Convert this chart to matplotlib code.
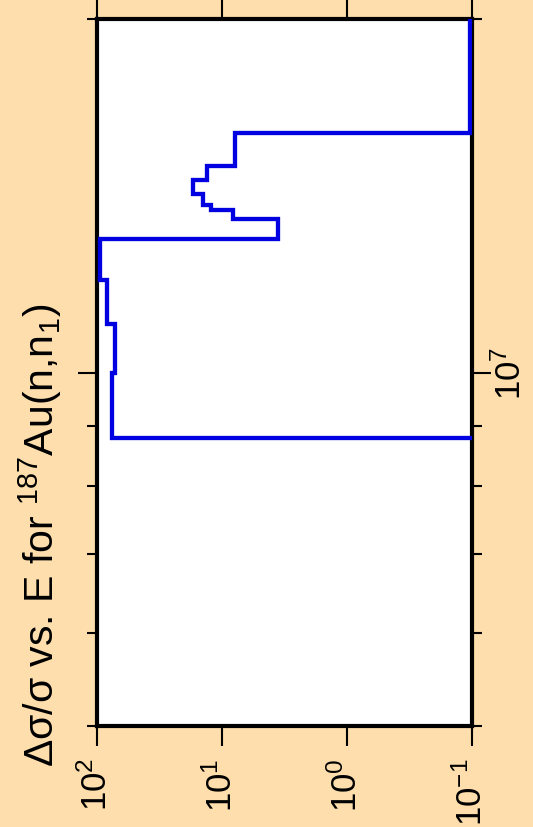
import matplotlib
matplotlib.use('Agg')
import matplotlib.pyplot as plt
from matplotlib.ticker import FixedLocator, NullLocator, FixedFormatter

plt.rcParams['font.family'] = ['Liberation Sans', 'DejaVu Sans']
plt.rcParams['mathtext.default'] = 'regular'

# energy bin edges (eV) and relative uncertainty in each bin
edges = [5.0e6, 8.8e6, 1.0e7, 1.1e7, 1.2e7, 1.3e7, 1.35e7, 1.375e7, 1.39e7,
         1.42e7, 1.46e7, 1.5e7, 1.6e7, 2.5e7]
values = [1e-3, 75.9, 71.8, 83.2, 95.0, 3.56, 8.17, 12.2, 14.2,
          17.1, 13.2, 7.87, 0.104]

val_ticks = [100, 10, 1, 0.1]
val_labels = ['$10^{2}$', '$10^{1}$', '$10^{0}$', '$10^{-1}$']
e_major = [1e7]
e_minor = [5e6, 6e6, 7e6, 8e6, 9e6, 2e7]

bg = '#fddeac'
fig = plt.figure(figsize=(5.33, 8.28), dpi=100, facecolor=bg)
ax = fig.add_axes([97/533, 1 - 727/828, 375/533, 707/828])
ax.set_facecolor('white')

ax.stairs(values, edges, orientation='horizontal', baseline=None,
          color='#0000e0', linewidth=3.1, zorder=3)

ax.set_xscale('log')
ax.set_yscale('log')
ax.set_xlim(100, 0.1)
ax.set_ylim(5e6, 2e7)

ax.xaxis.set_major_locator(FixedLocator(val_ticks))
ax.xaxis.set_major_formatter(FixedFormatter(val_labels))
ax.xaxis.set_minor_locator(NullLocator())
ax.yaxis.set_major_locator(FixedLocator(e_major))
ax.yaxis.set_major_formatter(FixedFormatter(['$10^{7}$']))
ax.yaxis.set_minor_locator(FixedLocator(e_minor))
ax.yaxis.set_minor_formatter(FixedFormatter([''] * len(e_minor)))

ax.tick_params(axis='x', which='major', direction='out', length=14.5, width=1.5,
               top=True, bottom=True, labelbottom=True, labeltop=False,
               labelsize=25, pad=8, labelrotation=90)
ax.tick_params(axis='y', which='major', direction='out', length=14, width=1.5,
               left=True, right=True, labelleft=False, labelright=True,
               labelsize=25, pad=1, labelrotation=90)
ax.tick_params(axis='y', which='minor', direction='out', length=7.5, width=1.5,
               left=True, right=True, labelleft=False, labelright=False)
for lab in ax.get_yticklabels():
    lab.set_va('center')

for s in ax.spines.values():
    s.set_linewidth(3)

fig.text(54/533, 1 - 767/828,
         'Δσ/σ vs. E for $^{187}$Au(n,n$_{1}$)',
         rotation=90, rotation_mode='anchor', ha='left', va='baseline',
         fontsize=29.5)

fig.savefig('out.png', dpi=100, facecolor=bg)
